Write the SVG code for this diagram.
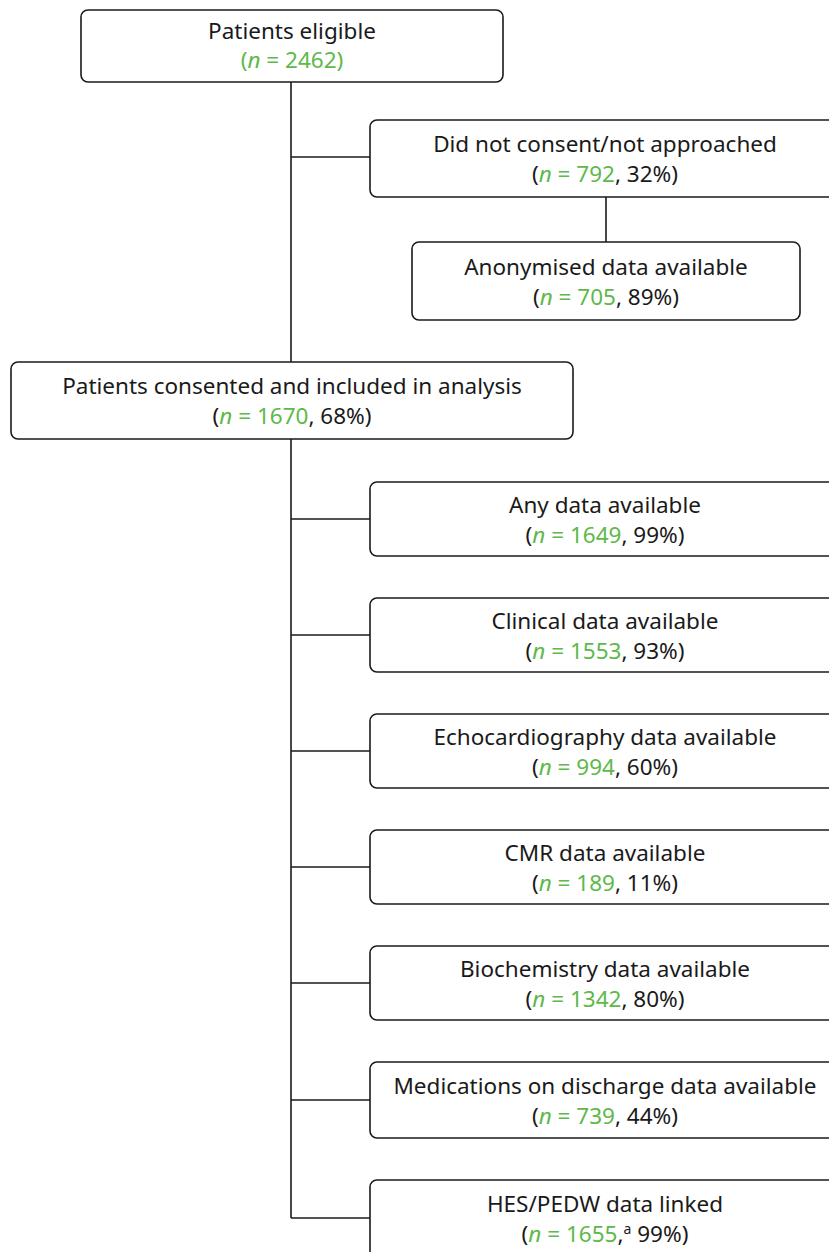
<svg xmlns="http://www.w3.org/2000/svg" width="829" height="1252" viewBox="0 0 829 1252">
<style>
.box{fill:#fff;stroke:#1a1a1a;stroke-width:1.6}
.ln{stroke:#1a1a1a;stroke-width:1.6;fill:none}
text{font-family:"Noto Sans","Open Sans",sans-serif;font-size:22.5px;fill:#1a1a1a;text-anchor:middle}
.g{fill:#5db94a}
.i{font-style:italic}
.sup{font-size:14px}
</style>
<rect width="829" height="1252" fill="#fff"/>
<g id="connectors">
<line class="ln" x1="291" y1="81" x2="291" y2="362"/>
<line class="ln" x1="291" y1="157" x2="370" y2="157"/>
<line class="ln" x1="606" y1="197" x2="606" y2="242"/>
<line class="ln" x1="291" y1="439" x2="291" y2="1218"/>
<line class="ln" x1="291" y1="519" x2="370" y2="519"/>
<line class="ln" x1="291" y1="635" x2="370" y2="635"/>
<line class="ln" x1="291" y1="751" x2="370" y2="751"/>
<line class="ln" x1="291" y1="867" x2="370" y2="867"/>
<line class="ln" x1="291" y1="983" x2="370" y2="983"/>
<line class="ln" x1="291" y1="1100" x2="370" y2="1100"/>
<line class="ln" x1="291" y1="1218" x2="370" y2="1218"/>
</g>
<g id="eligible">
<rect class="box" x="81" y="10" width="422" height="72" rx="7"/>
<text x="292" y="39">Patients eligible</text>
<text x="292" y="68" class="g">(<tspan class="i">n</tspan> = 2462)</text>
</g>
<g id="notconsent">
<rect class="box" x="370" y="120" width="480" height="77" rx="7"/>
<text x="605" y="152">Did not consent/not approached</text>
<text x="605" y="182">(<tspan class="g"><tspan class="i">n</tspan> = 792</tspan>, 32%)</text>
</g>
<g id="anonymised">
<rect class="box" x="412" y="242" width="388" height="78" rx="7"/>
<text x="606" y="275">Anonymised data available</text>
<text x="606" y="305">(<tspan class="g"><tspan class="i">n</tspan> = 705</tspan>, 89%)</text>
</g>
<g id="consented">
<rect class="box" x="11" y="362" width="562" height="77" rx="7"/>
<text x="292" y="394">Patients consented and included in analysis</text>
<text x="292" y="424">(<tspan class="g"><tspan class="i">n</tspan> = 1670</tspan>, 68%)</text>
</g>
<g id="anydata">
<rect class="box" x="370" y="482" width="480" height="74" rx="7"/>
<text x="605" y="513">Any data available</text>
<text x="605" y="543">(<tspan class="g"><tspan class="i">n</tspan> = 1649</tspan>, 99%)</text>
</g>
<g id="clinical">
<rect class="box" x="370" y="598" width="480" height="74" rx="7"/>
<text x="605" y="629">Clinical data available</text>
<text x="605" y="659">(<tspan class="g"><tspan class="i">n</tspan> = 1553</tspan>, 93%)</text>
</g>
<g id="echo">
<rect class="box" x="370" y="714" width="480" height="74" rx="7"/>
<text x="605" y="745">Echocardiography data available</text>
<text x="605" y="775">(<tspan class="g"><tspan class="i">n</tspan> = 994</tspan>, 60%)</text>
</g>
<g id="cmr">
<rect class="box" x="370" y="830" width="480" height="74" rx="7"/>
<text x="605" y="861">CMR data available</text>
<text x="605" y="891">(<tspan class="g"><tspan class="i">n</tspan> = 189</tspan>, 11%)</text>
</g>
<g id="biochem">
<rect class="box" x="370" y="946" width="480" height="74" rx="7"/>
<text x="605" y="977">Biochemistry data available</text>
<text x="605" y="1007">(<tspan class="g"><tspan class="i">n</tspan> = 1342</tspan>, 80%)</text>
</g>
<g id="medications">
<rect class="box" x="370" y="1062" width="480" height="76" rx="7"/>
<text x="605" y="1094">Medications on discharge data available</text>
<text x="605" y="1124">(<tspan class="g"><tspan class="i">n</tspan> = 739</tspan>, 44%)</text>
</g>
<g id="hes">
<rect class="box" x="370" y="1180" width="480" height="100" rx="7"/>
<text x="605" y="1212">HES/PEDW data linked</text>
<text x="605" y="1242">(<tspan class="g"><tspan class="i">n</tspan> = 1655</tspan>,<tspan class="sup" dy="-8">a</tspan><tspan dy="8"> 99%)</tspan></text>
</g>
</svg>
